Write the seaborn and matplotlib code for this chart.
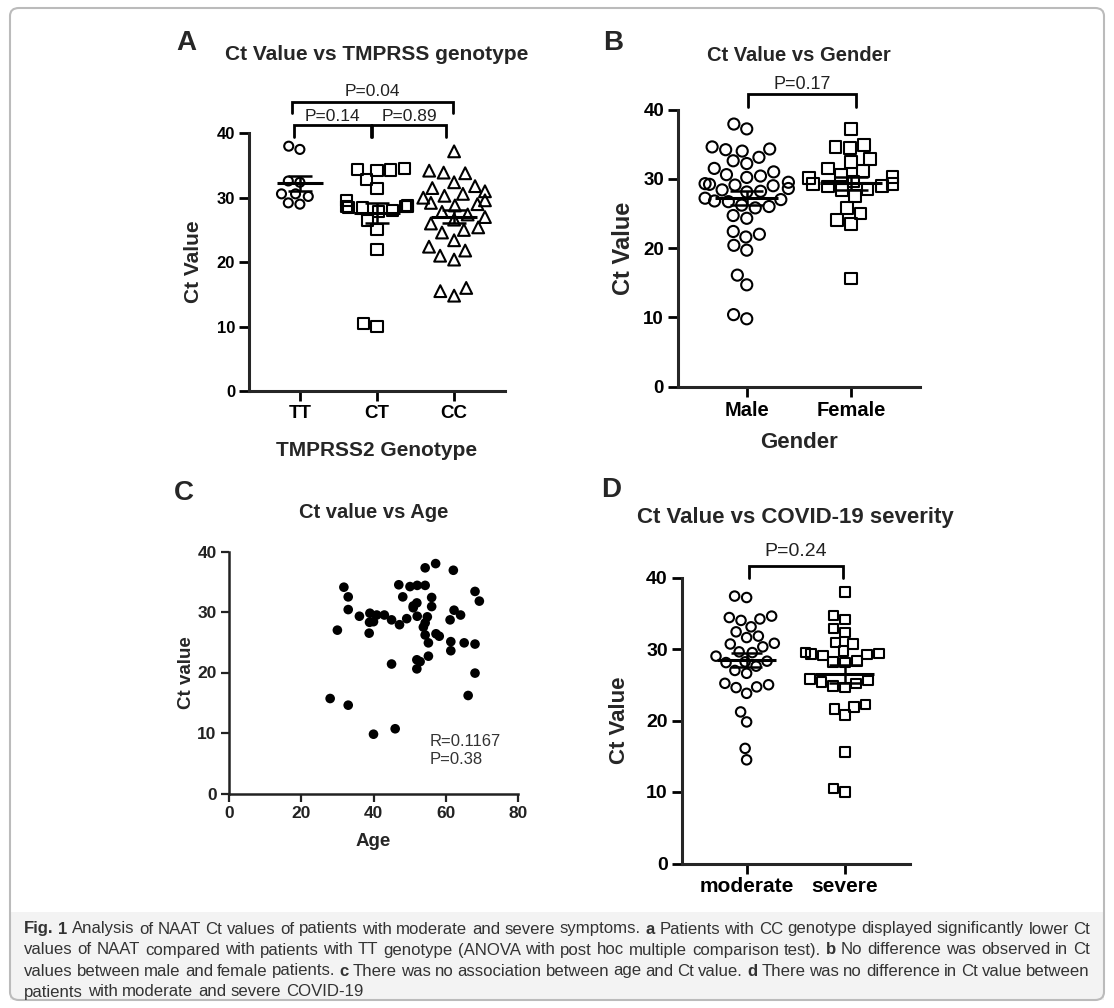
import matplotlib
matplotlib.use('Agg')
import matplotlib.pyplot as plt
import seaborn as sns
import pandas as pd
import numpy as np
from matplotlib.patches import FancyBboxPatch, Rectangle

# ---- data ----
# A: Ct value by TMPRSS2 genotype
genotypes = ['TT', 'CT', 'CC']
ct_tt = [38.0, 37.5, 32.6, 32.4, 30.6, 30.2, 30.6, 29.0, 29.2]
ct_ct = [34.4, 34.6, 34.2, 34.3, 32.8, 31.5, 29.6, 28.8, 28.6, 28.5, 28.7, 28.4, 28.6,
         28.0, 27.8, 26.5, 25.0, 22.0, 10.0, 10.5]
ct_cc = [37.2, 34.2, 33.8, 33.9, 32.4, 31.8, 31.5, 31.0, 30.6, 30.3, 30.0, 29.6, 29.2,
         29.0, 28.8, 27.8, 27.4, 27.0, 26.6, 26.0, 25.4, 25.0, 24.6, 23.4, 22.4, 21.8,
         21.0, 20.4, 16.0, 15.5, 14.8]
p_a = {'TT-CT': 'P=0.14', 'CT-CC': 'P=0.89', 'TT-CC': 'P=0.04'}

# B: Ct value by gender
genders = ['Male', 'Female']
ct_male = [37.9, 37.2, 34.6, 34.3, 34.2, 34.0, 33.1, 32.6, 32.2, 31.5, 31.0, 30.6, 30.4,
           30.2, 29.5, 29.3, 29.2, 29.1, 29.0, 28.6, 28.4, 28.2, 28.1, 27.2, 27.0, 26.8,
           26.7, 26.2, 26.0, 25.8, 24.7, 24.3, 22.4, 22.0, 21.6, 20.4, 19.7, 16.1, 14.7,
           10.4, 9.8]
ct_female = [37.2, 34.9, 34.6, 34.4, 32.9, 32.4, 31.5, 31.1, 30.6, 30.3, 30.1, 29.6, 29.3,
             29.0, 28.9, 29.2, 28.5, 28.4, 27.5, 25.8, 25.0, 24.0, 23.5, 15.6]
p_b = 'P=0.17'

# C: Ct value vs age
age = [30.0, 31.8, 33.0, 33.0, 36.1, 38.8, 39.0, 40.0, 40.9, 43.0, 45.0, 45.0, 47.2, 47.0,
       48.1, 49.2, 50.1, 51.0, 52.0, 52.1, 52.1, 52.0, 52.0, 52.9, 54.3, 54.3, 54.3, 54.3,
       54.9, 55.2, 55.2, 56.1, 56.1, 57.2, 57.3, 58.2, 61.2, 61.4, 61.4, 62.1, 62.3, 64.1,
       65.1, 68.1, 69.3, 68.1, 68.1, 28.0, 33.0, 40.0, 46.0, 66.2, 53.8, 38.9, 51.0]
ct_age = [27.0, 34.1, 32.5, 30.4, 29.3, 26.5, 29.8, 28.4, 29.5, 29.5, 28.7, 21.4, 27.9, 34.5,
          32.5, 28.9, 34.2, 30.7, 31.5, 34.4, 29.3, 22.1, 20.6, 21.8, 37.3, 34.4, 28.2, 26.2,
          29.2, 24.9, 22.7, 32.4, 30.9, 38.0, 26.4, 26.0, 28.7, 25.1, 23.6, 36.9, 30.3, 29.5,
          24.9, 33.4, 31.8, 24.7, 19.9, 15.7, 14.6, 9.8, 10.7, 16.2, 27.5, 28.3, 31.0]
stats_c = ['R=0.1167', 'P=0.38']

# D: Ct value by severity
severity = ['moderate', 'severe']
ct_moderate = [37.4, 37.2, 34.6, 34.4, 34.2, 34.0, 33.1, 32.4, 31.8, 31.6, 30.8, 30.7, 30.3,
               29.6, 29.5, 29.0, 28.2, 28.3, 28.1, 27.6, 27.0, 26.6, 25.2, 25.0, 24.7, 24.6,
               23.8, 21.2, 19.8, 16.1, 14.5]
ct_severe = [38.0, 34.7, 34.1, 32.9, 32.3, 30.9, 30.7, 29.7, 29.5, 29.4, 29.3, 29.2, 29.1,
             28.3, 28.2, 28.1, 25.8, 25.6, 25.4, 25.2, 24.8, 24.6, 22.2, 21.9, 21.6, 20.8,
             15.6, 10.5, 10.0]
p_d = 'P=0.24'

caption_lines = [
    [('Fig. 1', True), (' Analysis of NAAT Ct values of patients with moderate and severe symptoms. ', False),
     ('a', True), (' Patients with CC genotype displayed significantly lower Ct', False)],
    [('values of NAAT compared with patients with TT genotype (ANOVA with post hoc multiple comparison test). ', False),
     ('b', True), (' No difference was observed in Ct', False)],
    [('values between male and female patients. ', False), ('c', True),
     (' There was no association between age and Ct value. ', False), ('d', True),
     (' There was no difference in Ct value between', False)],
    [('patients with moderate and severe COVID-19', False)],
]

sns.set_style('ticks')
plt.rcParams['font.family'] = ['Liberation Sans', 'DejaVu Sans']
narrow = ['Liberation Sans Narrow', 'Liberation Sans', 'DejaVu Sans']

fig = plt.figure(figsize=(11.14, 10.08), dpi=100)
W, H = 1114, 1008


def add_ax(left, top, right, bottom):
    # pixel box -> figure fraction
    return fig.add_axes([left / W, 1 - bottom / H, (right - left) / W, (bottom - top) / H])


def dot_panel(ax, groups, values, markers, sizes, tick_fs, ytick_fs):
    df = pd.DataFrame({'group': np.repeat(groups, [len(v) for v in values]),
                       'ct': np.concatenate(values)})
    for g, m, s in zip(groups, markers, sizes):
        sns.swarmplot(data=df[df['group'] == g], x='group', y='ct', order=groups,
                      marker=m, size=s, color='white', edgecolor='black',
                      linewidth=1.5, ax=ax)
    for c in ax.collections:
        c.set_facecolor('none')
    stats = df.groupby('group', sort=False)['ct'].agg(['mean', 'sem'])
    for i, g in enumerate(groups):
        mu, se = stats.loc[g, 'mean'], stats.loc[g, 'sem']
        ax.hlines(mu, i - 0.3, i + 0.3, color='black', lw=2.2, zorder=5)
        ax.hlines([mu - se, mu + se], i - 0.16, i + 0.16, color='black', lw=1.8, zorder=5)
        ax.vlines(i, mu - se, mu + se, color='black', lw=1.8, zorder=5)
    ax.set_xlim(-0.66, len(groups) - 1 + 0.66)
    ax.set_ylim(0, 40)
    ax.set_yticks([0, 10, 20, 30, 40])
    sns.despine(ax=ax)
    for s in ['left', 'bottom']:
        ax.spines[s].set_linewidth(2.2)
    ax.tick_params(width=2, length=7, pad=3, colors='black')
    ax.tick_params(axis='x', labelsize=tick_fs)
    ax.tick_params(axis='y', labelsize=ytick_fs)
    for lbl in ax.get_xticklabels() + ax.get_yticklabels():
        lbl.set_fontweight('bold')


def bracket(ax, x0, x1, y, h, text, fs, gap):
    ax.plot([x0, x0, x1, x1], [y - h, y, y, y - h], color='black', lw=2, clip_on=False,
            solid_joinstyle='miter')
    ax.text((x0 + x1) / 2, y + gap, text, ha='center', va='bottom', fontsize=fs,
            color='#222222', clip_on=False)


# ---- A ----
ax_a = add_ax(249, 133.3, 505, 391)
dot_panel(ax_a, genotypes, [ct_tt, ct_ct, ct_cc], ['o', 's', '^'], [6.5, 8, 8.5], 13.5, 12)
ax_a.set_xlabel('TMPRSS2 Genotype', fontsize=15, fontweight='bold')
ax_a.set_ylabel('Ct Value', fontsize=15, fontweight='bold')
ax_a.yaxis.set_label_coords(-0.18, 0.5)
ax_a.xaxis.set_label_coords(0.5, -0.195)
ax_a.set_title('Ct Value vs TMPRSS genotype', fontsize=15, fontweight='bold', pad=53)
bracket(ax_a, -0.08, 0.92, 41.3, 1.8, p_a['TT-CT'], 12.5, 0.1)
bracket(ax_a, 0.94, 1.90, 41.3, 1.8, p_a['CT-CC'], 12.5, 0.1)
bracket(ax_a, -0.10, 1.99, 44.9, 1.8, p_a['TT-CC'], 12.5, 0.4)

# ---- B ----
ax_b = add_ax(678, 109.5, 919.6, 386.7)
dot_panel(ax_b, genders, [ct_male, ct_female], ['o', 's'], [8, 8.5], 14.5, 13.5)
ax_b.set_xlabel('Gender', fontsize=16, fontweight='bold')
ax_b.set_ylabel('Ct Value', fontsize=17, fontweight='bold')
ax_b.yaxis.set_label_coords(-0.18, 0.5)
ax_b.xaxis.set_label_coords(0.5, -0.165)
ax_b.set_title('Ct Value vs Gender', fontsize=14.5, fontweight='bold', pad=35)
bracket(ax_b, 0.01, 1.05, 42.2, 1.8, p_b, 13, 0.2)

# ---- C ----
ax_c = add_ax(229, 551.5, 518, 793.5)
sns.scatterplot(x=age, y=ct_age, color='black', s=48, edgecolor='none', ax=ax_c)
ax_c.set_xlim(0, 80)
ax_c.set_ylim(0, 40)
ax_c.set_xticks([0, 20, 40, 60, 80])
ax_c.set_yticks([0, 10, 20, 30, 40])
sns.despine(ax=ax_c)
for s in ['left', 'bottom']:
    ax_c.spines[s].set_linewidth(1.8)
    ax_c.spines[s].set_color('#222222')
ax_c.tick_params(width=1.6, length=6, pad=3, labelsize=12.5, colors='#222222')
for lbl in ax_c.get_xticklabels() + ax_c.get_yticklabels():
    lbl.set_fontweight('bold')
    lbl.set_family(narrow)
ax_c.set_xlabel('Age', fontsize=13.5, fontweight='bold', family=narrow)
ax_c.set_ylabel('Ct value', fontsize=13.5, fontweight='bold', family=narrow)
ax_c.yaxis.set_label_coords(-0.118, 0.5)
ax_c.xaxis.set_label_coords(0.5, -0.165)
ax_c.set_title('Ct value vs Age', fontsize=14.5, fontweight='bold', family=narrow, pad=24)
ax_c.text(0.695, 0.245, stats_c[0] + '\n' + stats_c[1], transform=ax_c.transAxes,
          fontsize=12, family=narrow, color='#333333', va='top', linespacing=1.2)

# ---- D ----
ax_d = add_ax(681.7, 577.5, 909.9, 863.5)
dot_panel(ax_d, severity, [ct_moderate, ct_severe], ['o', 's'], [6.8, 6.8], 15, 14)
ax_d.set_xlabel('')
ax_d.set_ylabel('Ct Value', fontsize=16, fontweight='bold')
ax_d.yaxis.set_label_coords(-0.227, 0.5)
ax_d.set_title('Ct Value vs COVID-19 severity', fontsize=16, fontweight='bold', pad=39)
bracket(ax_d, 0.02, 0.98, 41.6, 1.6, p_d, 14, 0.9)

# ---- panel letters ----
for letter, (x, y) in zip('ABCD', [(186, 43), (613, 43), (184, 493), (611, 490)]):
    fig.text(x / W, 1 - y / H, letter, fontsize=20, fontweight='bold', ha='center', va='center')

# ---- frame and caption ----
fig.patches.append(Rectangle((10 / W, 8 / H), 1094 / W, 88 / H, transform=fig.transFigure,
                             facecolor='#f3f3f3', edgecolor='none', zorder=0))
fig.patches.append(FancyBboxPatch((10 / W, 8 / H), 1094 / W, 992 / H, transform=fig.transFigure,
                                  boxstyle='round,pad=0,rounding_size=0.008',
                                  facecolor='none', edgecolor='#bbbbbb', lw=1.5, zorder=1))

renderer = fig.canvas.get_renderer()
cap_kw = dict(family=narrow, color='#333333')


def text_width(s, bold, size):
    t = fig.text(0, 0, s, fontsize=size, fontweight='bold' if bold else 'normal', **cap_kw)
    w = t.get_window_extent(renderer).width
    t.remove()
    return w


def split_words(line):
    return [(w, b) for txt, b in line for w in txt.split()]


x0, x1 = 24, 1090
cap_y = [929, 950, 971, 992]
base = 10
space = text_width('x x', False, base) - text_width('xx', False, base)
first = split_words(caption_lines[0])
natural = sum(text_width(w, b, base) for w, b in first) + space * (len(first) - 1)
cap_size = base * (x1 - x0) / natural
space = space * cap_size / base
for k, (line, y) in enumerate(zip(caption_lines, cap_y)):
    words = split_words(line)
    widths = [text_width(w, b, cap_size) for w, b in words]
    if k == len(caption_lines) - 1:
        gap = space
    else:
        gap = (x1 - x0 - sum(widths)) / (len(words) - 1)
    x = x0
    for (w, b), d in zip(words, widths):
        fig.text(x / W, 1 - y / H, w, fontsize=cap_size, fontweight='bold' if b else 'normal',
                 va='center', **cap_kw)
        x += d + gap

fig.savefig('out.png', dpi=100)
